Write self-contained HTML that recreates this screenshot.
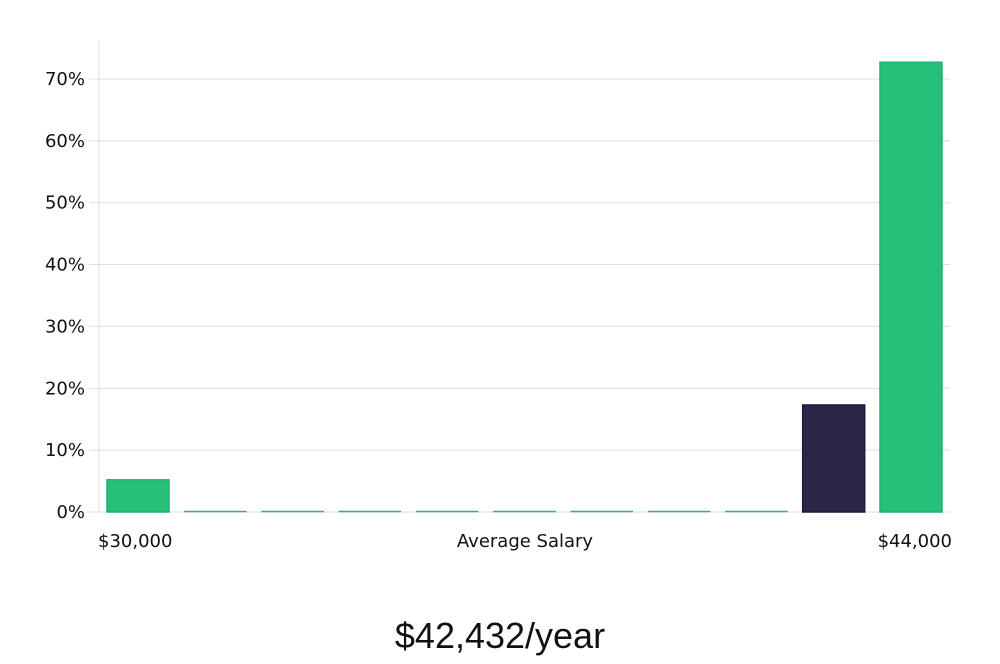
<!DOCTYPE html>
<html><head><meta charset="utf-8"><style>
body{margin:0;background:#fff;width:1000px;height:660px;overflow:hidden;font-family:"DejaVu Sans","Liberation Sans",sans-serif;}
</style></head><body>
<svg width="1000" height="660">
<g id="grid"></g><g id="bars"></g>
<line x1="99" y1="40" x2="99" y2="512" stroke="#ddd"/>
<text x="98" y="547" font-size="18" fill="#111">$30,000</text>
<text x="525" y="547" font-size="18" fill="#111" text-anchor="middle">Average Salary</text>
<text x="952" y="547" font-size="18" fill="#111" text-anchor="end">$44,000</text>
<text x="500" y="648" font-size="36" fill="#111" text-anchor="middle" font-family="Liberation Sans Narrow, Liberation Sans, sans-serif">$42,432/year</text>
</svg>
<script>
const categories=["b1","b2","b3","b4","b5","b6","b7","b8","b9","b10","b11"];
const values=[5.2,0,0,0,0,0,0,0,0,17.3,72.7];
const highlight=[false,false,false,false,false,false,false,false,false,true,false];
const ticks=[0,10,20,30,40,50,60,70];
const NS="http://www.w3.org/2000/svg";
const y=v=>512-v*6.186;
const x=i=>107+i*77.3;
const g=document.getElementById('grid'),b=document.getElementById('bars');
ticks.forEach(t=>{
 const l=document.createElementNS(NS,'line');
 l.setAttribute('x1',89);l.setAttribute('x2',950);l.setAttribute('y1',y(t));l.setAttribute('y2',y(t));
 l.setAttribute('stroke','#ddd');
 
 
 g.appendChild(l);
 const tx=document.createElementNS(NS,'text');
 tx.setAttribute('x',85);tx.setAttribute('y',y(t)+6);tx.setAttribute('text-anchor','end');
 tx.setAttribute('font-size','18');tx.setAttribute('fill','#111');tx.textContent=t+'%';
 
 
 g.appendChild(tx);
});
values.forEach((v,i)=>{
 const r=document.createElementNS(NS,'rect');
 const h=Math.max(1,512-y(v));
 r.setAttribute('x',x(i));r.setAttribute('y',512-h);r.setAttribute('width',62);r.setAttribute('height',h);
 r.setAttribute('fill',highlight[i]?'#292648':'#27c079');
 r.setAttribute('stroke',highlight[i]?'#1c1a3a':'#22b06e');r.setAttribute('stroke-width',v>0?1.5:0.5);
 
 
 b.appendChild(r);
});
</script>
</body></html>
